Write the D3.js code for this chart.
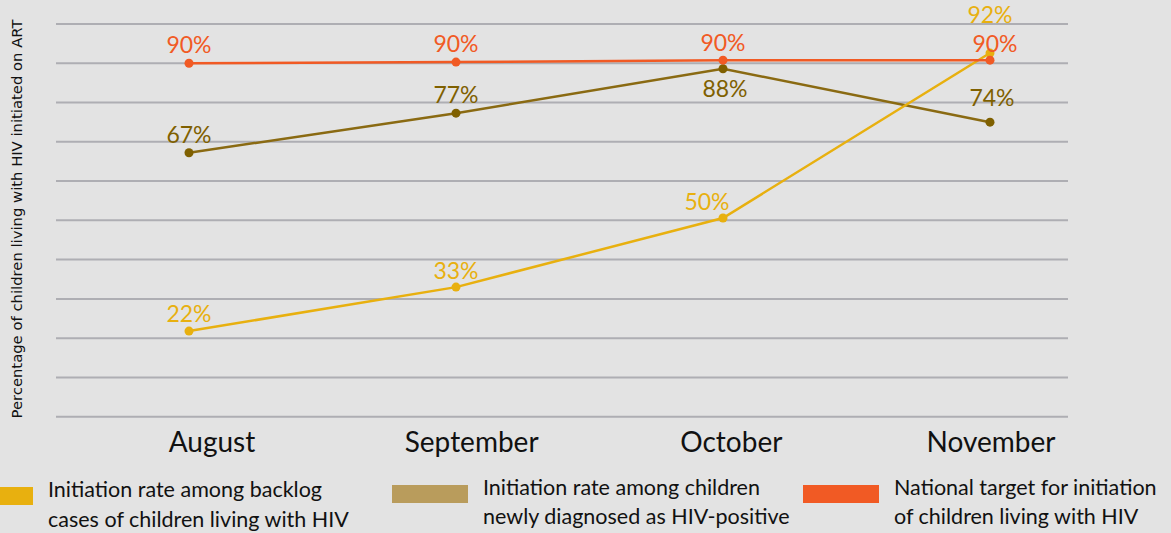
<!DOCTYPE html>
<html>
  <head>
    <meta charset="utf-8">
    <style>
      body { margin: 0; background: #e3e3e3; }
      svg { display: block; }
    </style>
  </head>
  <body>
    <svg id="chart"></svg>
  </body>
</html>

<script src="https://d3js.org/d3.v7.min.js"></script>

<script>
  const WIDTH = 1171
  const HEIGHT = 533

  // data
  const months = ['August', 'September', 'October', 'November']
  const backlog = [21.8, 33, 50.6, 92.6]
  const backlogLabels = ['22%', '33%', '50%', '92%']
  const newlyDx = [67.2, 77.3, 88.6, 75]
  const newlyLabels = ['67%', '77%', '88%', '74%']
  const target = [90, 90.3, 90.8, 90.8]
  const targetLabels = ['90%', '90%', '90%', '90%']
  const yTicks = [0, 10, 20, 30, 40, 50, 60, 70, 80, 90, 100]
  const legendNames = [
    ['Initiation rate among backlog', 'cases of children living with HIV'],
    ['Initiation rate among children', 'newly diagnosed as HIV-positive'],
    ['National target for initiation', 'of children living with HIV']
  ]

  const YELLOW = '#e8b00f'
  const BROWN = '#8a6a12'
  const BROWN_LEGEND = '#b99c5c'
  const RED = '#f15a24'

  let svg = d3.select('#chart')
    .attr('width', WIDTH)
    .attr('height', HEIGHT)

  let x = d3.scalePoint().domain(months).range([189, 990])
  let xLabel = d3.scalePoint().domain(months).range([212, 991])
  let y = d3.scaleLinear().domain([0, 100]).range([416.7, 24])

  // gridlines
  svg.append('g')
    .selectAll('line')
    .data(yTicks)
    .enter()
    .append('line')
    .attr('x1', 56)
    .attr('x2', 1068)
    .attr('y1', d => y(d))
    .attr('y2', d => y(d))
    .attr('stroke', '#aeaeb3')
    .attr('stroke-width', 2)

  // y axis title
  svg.append('text')
    .attr('transform', 'translate(22,' + 219 + ') rotate(-90)')
    .attr('text-anchor', 'middle')
    .style('font-family', 'DejaVu Sans')
    .style('font-size', '14.8px')
    .attr('fill', '#111')
    .text('Percentage of children living with HIV initiated on ART')

  // month labels
  svg.append('g')
    .selectAll('text')
    .data(months)
    .enter()
    .append('text')
    .attr('x', d => xLabel(d))
    .attr('y', 452)
    .attr('text-anchor', 'middle')
    .style('font-family', 'Lato')
    .style('font-size', '28px')
    .attr('fill', '#111')
    .text(d => d)

  let line = d3.line()
    .x(d => x(d.m))
    .y(d => y(d.v))

  // draw one series: line, dots and value labels
  function drawSeries(values, labels, color, dotColor, offsets) {
    let pts = months.map((m, i) => ({m: m, v: values[i], label: labels[i], off: offsets[i]}))
    let g = svg.append('g')
    g.append('path')
      .datum(pts)
      .attr('d', line)
      .attr('fill', 'none')
      .attr('stroke', color)
      .attr('stroke-width', 2.5)
    g.selectAll('circle')
      .data(pts)
      .enter()
      .append('circle')
      .attr('cx', d => x(d.m))
      .attr('cy', d => y(d.v))
      .attr('r', 4.5)
      .attr('fill', dotColor)
    g.selectAll('text')
      .data(pts)
      .enter()
      .append('text')
      .attr('x', d => x(d.m) + d.off[0])
      .attr('y', d => y(d.v) + d.off[1])
      .attr('text-anchor', 'middle')
      .style('font-family', 'Lato')
      .style('font-size', '23px')
      .attr('fill', dotColor)
      .text(d => d.label)
  }

  drawSeries(newlyDx, newlyLabels, BROWN, '#7f6000',
    [[0, -10], [0, -10], [2, 28], [2, -16]])
  drawSeries(backlog, backlogLabels, YELLOW, YELLOW,
    [[0, -9], [0, -8], [-16, -8], [0, -30]])
  drawSeries(target, targetLabels, RED, RED,
    [[0, -10], [0, -10], [0, -9], [5, -8]])

  // legend
  let legendColors = [YELLOW, BROWN_LEGEND, RED]
  let legendX = [0, 392, 803]
  let legend = svg.append('g')
    .selectAll('g')
    .data(legendNames)
    .enter()
    .append('g')
    .attr('transform', (d, i) => 'translate(' + legendX[i] + ',0)')
  legend.append('rect')
    .attr('x', 0)
    .attr('y', (d, i) => i == 0 ? 487 : 485)
    .attr('width', (d, i) => i == 0 ? 33 : 76)
    .attr('height', 18)
    .attr('fill', (d, i) => legendColors[i])
  legend.append('text')
    .attr('x', (d, i) => i == 0 ? 48 : 91)
    .attr('y', (d, i) => i == 0 ? 497 : 495)
    .style('font-family', 'Lato')
    .style('font-size', '21.5px')
    .attr('fill', '#111')
    .text(d => d[0])
  legend.append('text')
    .attr('x', (d, i) => i == 0 ? 48 : 91)
    .attr('y', (d, i) => i == 0 ? 527 : 524)
    .style('font-family', 'Lato')
    .style('font-size', '21.5px')
    .attr('fill', '#111')
    .text(d => d[1])
</script>
